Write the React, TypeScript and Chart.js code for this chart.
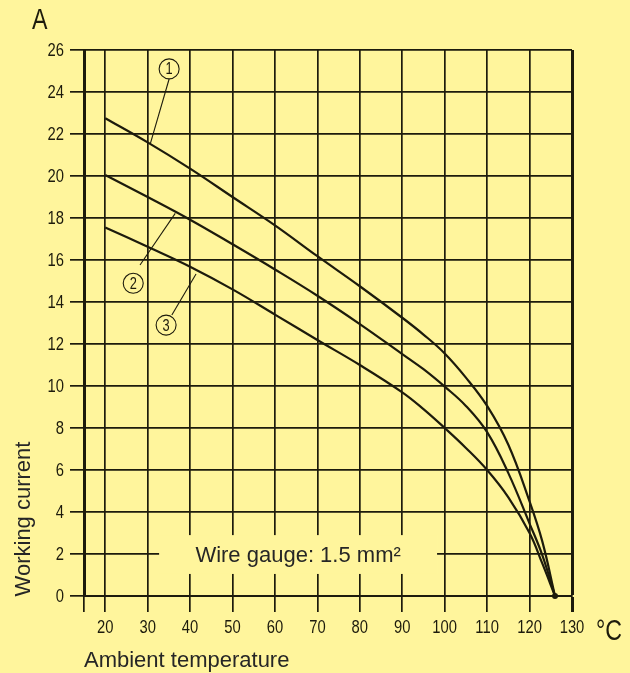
import React, { useEffect, useRef } from 'react';
import { Chart, registerables } from 'chart.js';

Chart.register(...registerables);

// ---- data ----
const xTickValues = [15, 20, 30, 40, 50, 60, 70, 80, 90, 100, 110, 120, 130];
const yTickValues = [0, 2, 4, 6, 8, 10, 12, 14, 16, 18, 20, 22, 24, 26];

const curve1Temp = [20, 30, 40, 50, 60, 70, 80, 90, 95, 100, 105, 110, 115, 120, 123, 126];
const curve1Amp = [22.75, 21.6, 20.35, 19.0, 17.65, 16.18, 14.75, 13.25, 12.45, 11.55, 10.4, 9.05, 7.2, 4.5, 2.6, 0];

const curve2Temp = [20, 30, 40, 50, 60, 70, 80, 90, 95, 100, 105, 110, 115, 120, 123, 126];
const curve2Amp = [20.05, 19.0, 17.92, 16.75, 15.55, 14.3, 12.95, 11.52, 10.8, 9.97, 9.05, 7.8, 5.85, 3.45, 1.95, 0];

const curve3Temp = [20, 30, 40, 50, 60, 70, 80, 90, 95, 100, 105, 110, 115, 120, 123, 126];
const curve3Amp = [17.55, 16.63, 15.68, 14.6, 13.4, 12.19, 11.0, 9.7, 8.9, 8.0, 7.05, 6.0, 4.7, 3.0, 1.55, 0];

const curveLabels = ['1', '2', '3'];
const yUnit = 'A';
const xUnit = '°C';
const yTitle = 'Working current';
const xTitle = 'Ambient temperature';
const noteText = 'Wire gauge: 1.5 mm²';

const BG = '#FFF59C';
const INK = '#1d1b0c';
const NARROW = "'Liberation Sans', Arial, sans-serif";
const SANS = "'Liberation Sans', Arial, sans-serif";
const SQUEEZE = 0.8;

const toPoints = (xs: number[], ys: number[]) => xs.map((x, i) => ({ x, y: ys[i] }));

function narrowText(ctx: any, text: string, x: number, y: number, align: string, size: number) {
  ctx.save();
  ctx.translate(x, y);
  ctx.scale(SQUEEZE, 1);
  ctx.font = `${size}px ${NARROW}`;
  ctx.textAlign = align;
  ctx.textBaseline = 'middle';
  ctx.fillText(text, 0, 0);
  ctx.restore();
}

const extrasPlugin = {
  id: 'extras',
  beforeDatasetsDraw(chart: any) {
    const { ctx, scales } = chart;
    const xs = scales.x;
    const ys = scales.y;
    // note box covering the grid
    const x0 = xs.getPixelForValue(32.7);
    const x1 = xs.getPixelForValue(98.2);
    const y0 = ys.getPixelForValue(2.9);
    const y1 = ys.getPixelForValue(1.05);
    ctx.save();
    ctx.fillStyle = BG;
    ctx.fillRect(x0, y0, x1 - x0, y1 - y0);
    ctx.fillStyle = '#262626';
    ctx.font = `22px ${SANS}`;
    ctx.textAlign = 'center';
    ctx.textBaseline = 'alphabetic';
    ctx.fillText(noteText, (x0 + x1) / 2, ys.getPixelForValue(1.6));
    ctx.restore();
  },
  afterDatasetsDraw(chart: any) {
    const { ctx, scales, chartArea } = chart;
    const xs = scales.x;
    const ys = scales.y;
    const px = (v: number) => xs.getPixelForValue(v);
    const py = (v: number) => ys.getPixelForValue(v);
    ctx.save();
    ctx.strokeStyle = INK;
    ctx.fillStyle = INK;

    // tick labels (narrow technical lettering)
    ys.ticks.forEach((t: any) => {
      narrowText(ctx, String(t.value), chartArea.left - 20, py(t.value) + 1, 'right', 18.5);
    });
    xs.ticks.forEach((t: any) => {
      if (t.value === 15) return;
      narrowText(ctx, String(t.value), px(t.value), 627.5, 'center', 18.5);
    });

    // circled labels with leader lines
    const marks = [
      { c: [35.06, 25.1], a: [35.06, 24.62], b: [30.6, 21.52] },
      { c: [26.6, 14.89], a: [28.2, 15.76], b: [36.5, 18.22] },
      { c: [34.35, 12.9], a: [35.7, 13.38], b: [41.4, 15.33] },
    ];
    marks.forEach((m, i) => {
      ctx.lineWidth = 1.1;
      ctx.beginPath();
      ctx.arc(px(m.c[0]), py(m.c[1]), 10, 0, Math.PI * 2);
      ctx.stroke();
      ctx.beginPath();
      ctx.moveTo(px(m.a[0]), py(m.a[1]));
      ctx.lineTo(px(m.b[0]), py(m.b[1]));
      ctx.stroke();
      narrowText(ctx, curveLabels[i], px(m.c[0]), py(m.c[1]) + 1, 'center', 16);
    });

    // end dot
    ctx.beginPath();
    ctx.arc(px(126), py(0), 3, 0, Math.PI * 2);
    ctx.fill();

    // units
    narrowText(ctx, yUnit, 32, 21, 'left', 29);
    narrowText(ctx, xUnit, 596, 632, 'left', 29);

    // axis titles
    ctx.fillStyle = '#262626';
    ctx.font = `22px ${SANS}`;
    ctx.textAlign = 'left';
    ctx.textBaseline = 'alphabetic';
    ctx.fillText(xTitle, chartArea.left, 667);
    ctx.translate(30, 519);
    ctx.rotate(-Math.PI / 2);
    ctx.textAlign = 'center';
    ctx.fillText(yTitle, 0, 0);
    ctx.restore();
  },
};

export default function App() {
  const ref = useRef<HTMLCanvasElement | null>(null);
  useEffect(() => {
    if (!ref.current) return;
    const lineStyle = {
      borderColor: INK,
      borderWidth: 2.2,
      pointRadius: 0,
      fill: false,
      tension: 0.4,
      cubicInterpolationMode: 'default' as const,
    };
    const chart = new Chart(ref.current, {
      type: 'line',
      data: {
        datasets: [
          { label: curveLabels[0], data: toPoints(curve1Temp, curve1Amp), ...lineStyle },
          { label: curveLabels[1], data: toPoints(curve2Temp, curve2Amp), ...lineStyle },
          { label: curveLabels[2], data: toPoints(curve3Temp, curve3Amp), ...lineStyle },
        ],
      },
      options: {
        animation: false,
        responsive: false,
        layout: { padding: { left: 0, top: 50, right: 58, bottom: 0 } },
        plugins: { legend: { display: false }, tooltip: { enabled: false } },
        scales: {
          x: {
            type: 'linear',
            min: 15,
            max: 130,
            afterBuildTicks: (s: any) => {
              s.ticks = xTickValues.map((v) => ({ value: v }));
            },
            afterFit: (s: any) => {
              s.height = 77;
            },
            grid: {
              color: INK,
              lineWidth: (c: any) => (c.tick && c.tick.value === 130 ? 3 : 1.7),
              tickLength: 16,
              drawTicks: true,
            },
            border: { color: INK, width: 2 },
            ticks: { display: false, autoSkip: false },
          },
          y: {
            type: 'linear',
            min: 0,
            max: 26,
            afterBuildTicks: (s: any) => {
              s.ticks = yTickValues.map((v) => ({ value: v }));
            },
            afterFit: (s: any) => {
              s.width = 84;
            },
            grid: {
              color: INK,
              lineWidth: 1.7,
              tickLength: 14,
              drawTicks: true,
            },
            border: { color: INK, width: 3 },
            ticks: { display: false, autoSkip: false },
          },
        },
      },
      plugins: [extrasPlugin],
    });
    return () => chart.destroy();
  }, []);
  return (
    <canvas
      ref={ref}
      width={630}
      height={673}
      style={{ position: 'fixed', left: 0, top: 0, width: 630, height: 673, background: BG }}
    />
  );
}
